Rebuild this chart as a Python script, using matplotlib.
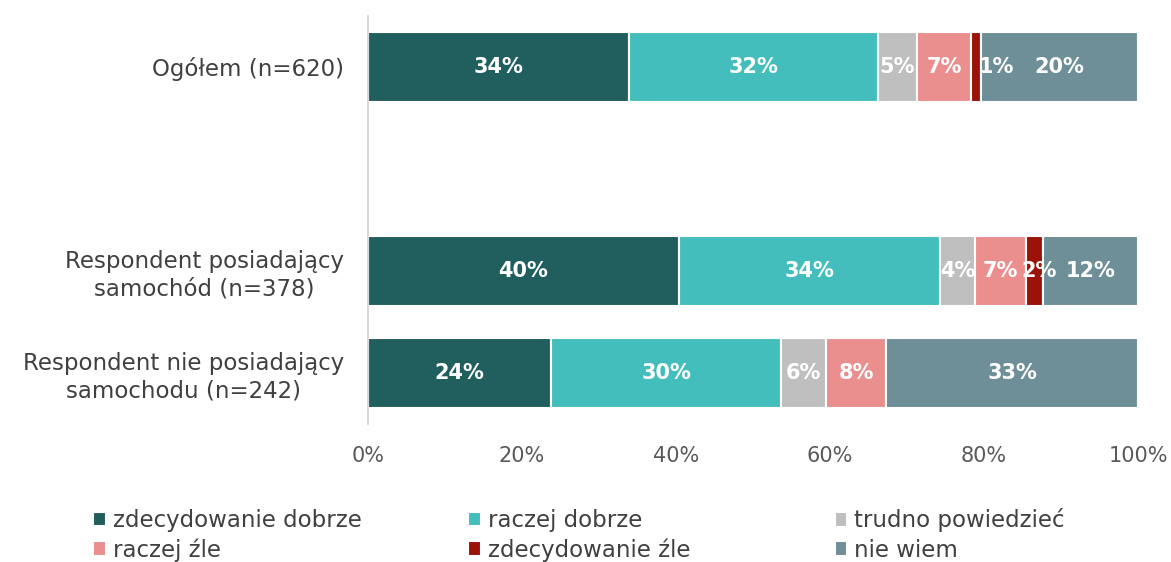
import numpy as np
import matplotlib.pyplot as plt

plt.rcParams['font.family'] = ['DejaVu Sans']

categories = ['Ogółem (n=620)',
              'Respondent posiadający\nsamochód (n=378)',
              'Respondent nie posiadający\nsamochodu (n=242)']
series_names = ['zdecydowanie dobrze', 'raczej dobrze', 'trudno powiedzieć',
                'raczej źle', 'zdecydowanie źle', 'nie wiem']
# shares in % per category (rows) and answer (columns)
values = np.array([
    [34, 32, 5, 7, 1, 20],
    [40, 34, 4, 7, 2, 12],
    [24, 30, 6, 8, 0, 33],
])
# exact bar widths (labels show the rounded values)
widths = np.array([
    [33.9, 32.3, 5.1, 7.0, 1.3, 20.4],
    [40.4, 33.9, 4.5, 6.6, 2.2, 12.4],
    [23.8, 29.9, 5.8, 7.8, 0.0, 32.7],
])
colors = ['#215F5E', '#44BEBD', '#BFBFBF', '#EB8F8E', '#9B1208', '#6E8F98']

y = np.array([0, 2, 3])

fig = plt.figure(figsize=(11.71, 5.62), dpi=100)
ax = fig.add_axes([0.314, 0.2456, 0.658, 0.726])

left = np.zeros(len(categories))
handles = []
for j, name in enumerate(series_names):
    bars = ax.barh(y, widths[:, j], left=left, height=0.68, color=colors[j],
                   edgecolor='white', linewidth=1.5, label=name)
    handles.append(bars)
    for i in range(len(categories)):
        if values[i, j] == 0:
            continue
        xc = left[i] + widths[i, j] / 2
        if j == 4 and values[i, j] == 1:
            xc += 2.6   # small label pushed out of the thin slice
        elif j == 4:
            xc += 0.6
        ax.text(xc, y[i], f'{values[i, j]}%', ha='center', va='center',
                color='white', fontsize=15, fontweight='bold')
    left += widths[:, j]

ax.set_xlim(0, 100)
ax.set_ylim(3.5, -0.5)
ax.set_yticks(y)
ax.set_yticklabels(categories, fontsize=16.5, color='#404040', ha='right',
                   multialignment='center')
ax.tick_params(axis='y', length=0, pad=17)
ax.set_xticks(np.arange(0, 101, 20))
ax.set_xticklabels([f'{t}%' for t in range(0, 101, 20)], fontsize=15, color='#595959')
ax.tick_params(axis='x', length=0, pad=16)
for s in ['top', 'right', 'bottom']:
    ax.spines[s].set_visible(False)
ax.spines['left'].set_color('#D9D9D9')
ax.spines['left'].set_linewidth(1.5)

# legend: three columns, two rows
col_x = [0.072, 0.392, 0.705]
for c in range(3):
    idx = [c, c + 3]
    fig.legend([handles[k] for k in idx], [series_names[k] for k in idx],
               loc='lower left', bbox_to_anchor=(col_x[c], -0.016),
               frameon=False, fontsize=16.5, handlelength=0.55,
               handleheight=0.6, handletextpad=0.3, labelspacing=0.28,
               labelcolor='#404040', borderaxespad=0.0)

fig.savefig('out.png', dpi=100)
